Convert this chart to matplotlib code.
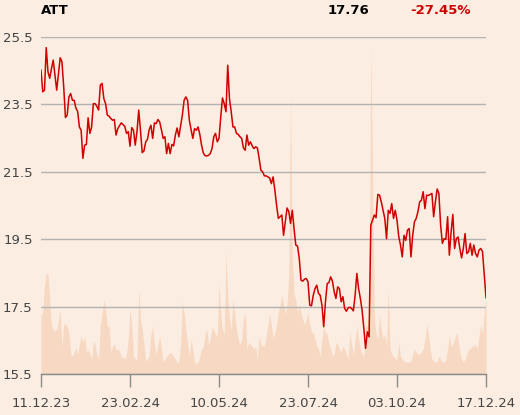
import matplotlib
matplotlib.use("Agg")
import matplotlib.pyplot as plt
import numpy as np

ticker = "ATT"
last_price = "17.76"
change = "-27.45%"

date_labels = ["11.12.23", "23.02.24", "10.05.24", "23.07.24", "03.10.24", "17.12.24"]
y_ticks = [15.5, 17.5, 19.5, 21.5, 23.5, 25.5]

price = [
    24.50, 23.86, 23.91, 25.17, 24.45, 24.26, 24.55, 24.80, 24.35, 23.91,
    24.40, 24.87, 24.75, 24.02, 23.10, 23.17, 23.71, 23.81, 23.61, 23.61,
    23.38, 23.28, 22.82, 22.72, 21.89, 22.28, 22.30, 23.09, 22.63, 22.82,
    23.51, 23.51, 23.43, 23.32, 24.06, 24.11, 23.66, 23.51, 23.17,
    23.14, 23.07, 23.02, 23.04, 22.58, 22.77, 22.86, 22.94, 22.89, 22.84,
    22.63, 22.68, 22.25, 22.80, 22.72, 22.28, 22.68, 23.32, 22.72, 22.06,
    22.11, 22.38, 22.45, 22.74, 22.87, 22.48, 22.94, 22.92, 23.04, 22.97,
    22.74, 22.48, 22.53, 22.03, 22.33, 22.03,
    22.30, 22.26, 22.58, 22.79, 22.53, 22.86, 23.17, 23.61, 23.71, 23.61,
    23.02, 22.74, 22.48, 22.77, 22.72, 22.82, 22.60, 22.28, 22.05, 21.97,
    21.96, 21.98, 22.03, 22.18, 22.53, 22.63, 22.38, 22.48, 23.12, 23.68,
    23.51, 23.27, 24.65, 23.66, 23.27, 22.82, 22.82, 22.63,
    22.60, 22.53, 22.48, 22.20, 22.13, 22.58, 22.28, 22.38, 22.26, 22.18,
    22.23, 22.20, 21.89, 21.54, 21.49, 21.37, 21.37, 21.34, 21.31, 21.14,
    21.34, 20.95, 20.50, 20.11, 20.16, 20.21, 19.61, 20.01, 20.42, 20.31,
    19.96, 20.35, 19.81, 19.32, 19.29, 18.92, 18.28,
    18.25, 18.31, 18.33, 18.23, 17.54, 17.52, 17.83, 18.03, 18.13, 17.89,
    17.83, 17.54, 16.90, 17.64, 18.18, 18.21, 18.38, 18.25, 17.94, 17.74,
    18.08, 18.03, 17.64, 17.79, 17.44, 17.36, 17.46, 17.48, 17.44, 17.37,
    17.83, 18.48, 18.03, 17.74, 17.39, 16.85, 16.26, 16.75, 16.60, 19.91,
    20.06, 20.21, 20.13, 20.82, 20.80, 20.60, 20.35, 20.11, 19.51, 20.35,
    20.26, 20.55, 20.11, 20.35, 20.06, 19.57, 19.32, 18.97, 19.61, 19.46,
    19.76, 19.81, 18.97, 19.61, 20.01, 20.11, 20.31, 20.60, 20.65, 20.90,
    20.40, 20.80,
    20.79, 20.82, 20.85, 20.16, 20.60, 20.98, 20.85, 19.91, 19.37, 19.51,
    19.49, 20.16, 19.02, 19.71, 20.23, 19.22, 19.51, 19.56, 19.22, 18.94,
    19.22, 19.66, 19.07, 19.12, 19.37, 19.02, 19.32, 19.07, 18.97, 19.17,
    19.22, 19.13, 18.43, 17.76,
]

# volume (thousands of shares)
volume = [
    600, 620, 900, 1020, 1000, 750, 500, 440, 440, 450,
    550, 650, 280, 500, 500, 480, 400, 200, 180, 220,
    270, 200, 300, 380, 320, 380, 220, 250, 200, 150,
    330, 300, 200, 150, 500, 600, 750, 650, 480, 480,
    220, 280, 300, 250, 250, 230, 170, 170, 150, 200,
    350, 670, 500, 180, 150, 150, 860, 550, 450, 300,
    130, 150, 180, 400, 480, 300, 200, 300, 380, 250,
    120, 150, 180, 200, 220, 200, 180, 150, 120, 120,
    300, 720, 620, 450, 300, 180, 350, 250, 120, 100,
    120, 180, 250, 270, 400, 450, 300, 350, 470, 450,
    400, 380, 920, 600, 450, 400, 1240, 800, 550, 450,
    750, 600, 450, 350, 300, 350, 550, 620, 250, 320,
    300, 280, 250, 280, 150, 390, 300, 280, 280, 380,
    500, 600, 500, 350, 420, 500, 620, 700, 800, 700,
    600, 700, 1000, 2820, 1200, 800, 750, 620, 700, 620,
    550, 500, 550, 620, 500, 420, 420, 350, 280, 250,
    180, 350, 480, 420, 400, 300, 250, 180, 200, 320,
    300, 250, 220, 280, 250, 200, 150, 420, 300, 180,
    350, 480, 350, 250, 200, 180, 480, 480, 600, 3300,
    2000, 580, 400, 350, 600, 450, 350, 400, 300, 850,
    250, 200, 180, 150, 150, 320, 180, 150, 130, 120,
    120, 120, 130, 200, 250, 220, 200, 200, 220, 250,
    350, 500, 400, 250, 150, 130, 120, 120, 180, 150,
    120, 120, 150, 250, 380, 280, 300, 350, 420, 350,
    220, 150, 120, 150, 200, 250, 250, 280, 280, 300,
    250, 380, 500, 400, 620, 750,
]

bg = "#FBEDE1"
fig = plt.figure(figsize=(5.2, 4.15), dpi=100, facecolor=bg)
ax = fig.add_axes([41/520, 1-374/415, 445/520, 337.5/415])
ax.set_facecolor(bg)

x = np.arange(len(price))
xv = np.arange(len(volume))

axv = ax.twinx()
axv.fill_between(xv, volume, 0, color="#F7D9C3", lw=0, zorder=1)
axv.set_ylim(0, 3400)
axv.set_yticks([])
for s in axv.spines.values():
    s.set_visible(False)
axv.set_zorder(0)
ax.set_zorder(1)
ax.patch.set_visible(False)
axv.patch.set_facecolor(bg)
axv.patch.set_visible(True)

ax.plot(x, price, color="#D00000", lw=1.1, zorder=3)
ax.set_ylim(15.5, 25.5)
ax.set_xlim(0, len(price) - 1)
ax.set_yticks(y_ticks)
ax.set_yticklabels([f"{v:.1f}" for v in y_ticks])
ax.grid(axis="y", color="#B3B3B3", lw=1)
ax.set_axisbelow(True)

n = len(price) - 1
ax.set_xticks(np.linspace(0, n, len(date_labels)))
ax.set_xticklabels(date_labels)

for s in ["top", "right", "left"]:
    ax.spines[s].set_visible(False)
ax.spines["bottom"].set_color("#8A8A8A")
ax.spines["bottom"].set_linewidth(1)
ax.tick_params(axis="y", length=0, pad=6, labelsize=9.5, labelcolor="#444444")
ax.tick_params(axis="x", length=9.5, width=1, color="#8A8A8A", pad=7,
               labelsize=9.5, labelcolor="#444444")

fig.text(41/520, 1-10/415, ticker, fontsize=9.5, fontweight="bold",
         color="black", ha="left", va="center")
fig.text(369/520, 1-10/415, last_price, fontsize=9.5, fontweight="bold",
         color="black", ha="right", va="center")
fig.text(410/520, 1-10/415, change, fontsize=9.5, fontweight="bold",
         color="#D00000", ha="left", va="center")

fig.savefig("out.png", dpi=100, facecolor=bg)
